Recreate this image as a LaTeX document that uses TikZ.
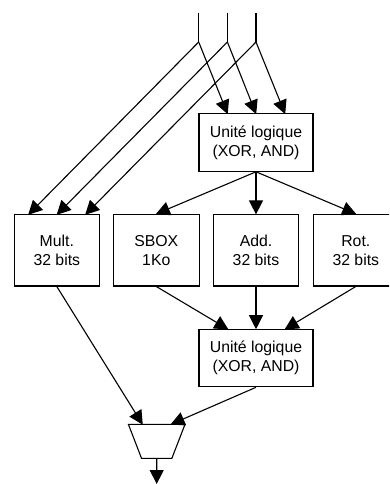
\documentclass[tikz,border=0pt]{standalone}
\usepackage{fontspec}
\setmainfont{Liberation Sans}
\usetikzlibrary{arrows.meta,shapes.geometric}
\tikzset{
  px/.style={x=1pt,y=-1pt},
  blockbox/.style={draw=black,line width=1.1pt,fill=white,align=center,inner sep=0pt,font=\fontsize{15.8}{19}\selectfont},
  unitbox/.style={blockbox,minimum width=114pt,minimum height=57.5pt},
  opbox/.style={blockbox,minimum width=85.5pt,minimum height=71.5pt},
  muxbox/.style={draw=black,line width=1.1pt,fill=white,trapezium,trapezium angle=67.2,shape border rotate=180,trapezium stretches=true,minimum width=56.7pt,minimum height=34pt,inner sep=0pt},
  wire/.style={draw=black,line width=1.1pt},
  arrowwire/.style={wire,-{Triangle[length=14pt,width=14pt]},shorten >=-0.5pt}
}
\begin{document}
\begin{tikzpicture}[px]
\useasboundingbox (0,0) rectangle (389,484);
\clip (0,0) rectangle (389,484);
% nodes
\node[unitbox] (u1) at (256,142.5) {Unité logique\\(XOR, AND)};
\node[opbox] (mult) at (56.8,250.2) {Mult.\\32 bits};
\node[opbox] (sbox) at (156.3,250.2) {SBOX\\1Ko};
\node[opbox] (add) at (256,250.2) {Add.\\32 bits};
\node[opbox] (rot) at (355.8,250.2) {Rot.\\32 bits};
\node[unitbox] (u2) at (256,358) {Unité logique\\(XOR, AND)};
\node[muxbox] (mux) at (156.7,441.3) {\phantom{X}};
% named end points
\coordinate (s1) at (198.7,13);
\coordinate (s2) at (227.4,13);
\coordinate (s3) at (256,13);
\coordinate (j1) at (198.7,42);
\coordinate (j2) at (227.4,42);
\coordinate (j3) at (256,42);
\coordinate (u1a) at (227.5,113.7);
\coordinate (u1b) at (256,113.7);
\coordinate (u1c) at (285,113.7);
\coordinate (ma) at (28.5,214.5);
\coordinate (mb) at (57,214.5);
\coordinate (mc) at (85.5,214.5);
\coordinate (u2a) at (228,329.2);
\coordinate (u2b) at (285,329.2);
\coordinate (xa) at (142.5,424.3);
\coordinate (xb) at (171,424.3);
\coordinate (xout) at (156.7,484);
% connectors
\draw[wire] (s1) -- (j1);
\draw[wire] (s2) -- (j2);
\draw[wire] (s3) -- (j3);
\draw[arrowwire] (j1) -- (u1a);
\draw[arrowwire] (j2) -- (u1b);
\draw[arrowwire] (j3) -- (u1c);
\draw[arrowwire] (j1) -- (ma);
\draw[arrowwire] (j2) -- (mb);
\draw[arrowwire] (j3) -- (mc);
\draw[arrowwire] (u1.south) -- (sbox.north);
\draw[arrowwire] (u1.south) -- (add.north);
\draw[arrowwire] (u1.south) -- (rot.north);
\draw[arrowwire] (sbox.south) -- (u2a);
\draw[arrowwire] (add.south) -- (u2.north);
\draw[arrowwire] (rot.south) -- (u2b);
\draw[arrowwire] (mult.south) -- (xa);
\draw[arrowwire] (u2.south) -- (xb);
\draw[arrowwire,shorten >=0pt] (mux.south) -- (xout);
\end{tikzpicture}
\end{document}
